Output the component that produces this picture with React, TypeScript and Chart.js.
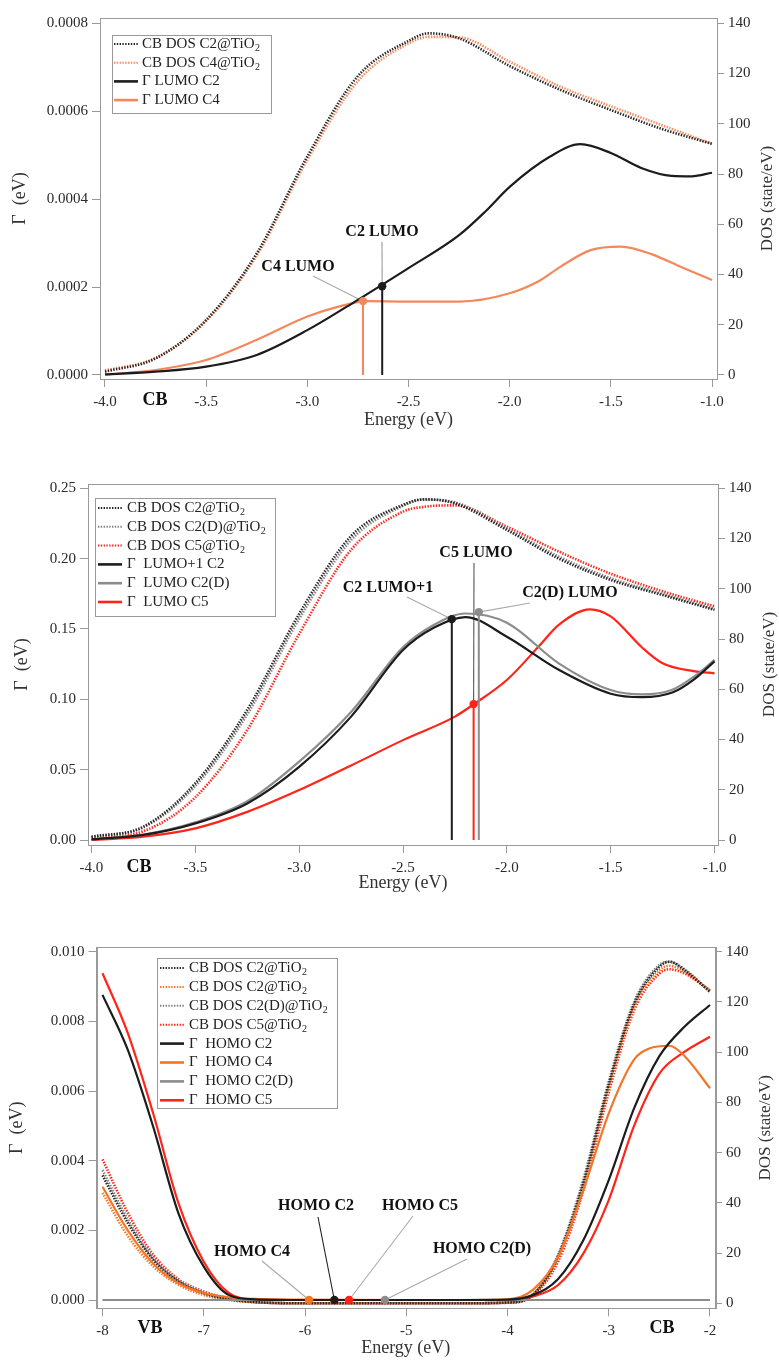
import { useEffect, useRef } from "react";
import { Chart, registerables } from "chart.js";

Chart.register(...registerables);

const SERIF = '"Liberation Serif", "Times New Roman", serif';
const W = 779;

const BLACK = "#1c1c1c";
const GRAY = "#8c8c8c";
const ORANGE1 = "#F5885A";
const ORANGE3 = "#F37526";
const RED = "#FF2318";

// ---------------- Panel 1 data ----------------
const p1DosEnergy = [-4, -3.75, -3.5, -3.25, -3, -2.75, -2.5, -2.4, -2.25, -2, -1.75, -1.5, -1.25, -1];
const p1DosC2 = [1.3, 6.6, 21.9, 48.4, 87, 119, 133, 136, 134, 123, 113.5, 105.5, 98, 92];
const p1DosC4 = [1.8, 6.8, 21.5, 47.5, 85.6, 117, 132, 134.6, 134.4, 124.7, 114.8, 107, 99.5, 92];
const p1GammaC2Energy = [-4, -3.75, -3.5, -3.25, -3, -2.75, -2.5, -2.25, -2.12, -2, -1.8, -1.65, -1.5, -1.35, -1.2, -1.1, -1];
const p1GammaC2 = [0.0000015, 0.0000076, 0.000019, 0.0000455, 0.000102, 0.000171, 0.000243, 0.000318, 0.000372, 0.000428, 0.000497, 0.000525, 0.000505, 0.000471, 0.000453, 0.000452, 0.00046];
const p1GammaC4Energy = [-4, -3.75, -3.5, -3.25, -3, -2.85, -2.7, -2.5, -2.25, -2, -1.85, -1.75, -1.6, -1.45, -1.3, -1.15, -1];
const p1GammaC4 = [0.000001, 0.0000114, 0.000034, 0.00008, 0.000133, 0.000155, 0.000168, 0.000167, 0.000167, 0.000186, 0.000215, 0.000246, 0.000284, 0.000292, 0.000275, 0.000245, 0.000216];
const p1LevelNames = ["C2 LUMO", "C4 LUMO"];
const p1LevelEnergy = [-2.63, -2.725];
const p1LevelGamma = [0.000202, 0.000168];
const p1Legend = ["CB DOS C2@TiO₂", "CB DOS C4@TiO₂", "Γ LUMO C2", "Γ LUMO C4"];
const p1XTicks = [-4, -3.5, -3, -2.5, -2, -1.5, -1];
const p1GammaTicks = [0, 0.0002, 0.0004, 0.0006, 0.0008];

// ---------------- Panel 2 data ----------------
const p2DosEnergy = [-4, -3.75, -3.5, -3.25, -3, -2.75, -2.5, -2.4, -2.25, -2, -1.75, -1.5, -1.25, -1];
const p2DosC2 = [1.3, 5.3, 22.6, 51.8, 90, 121, 133.4, 135.6, 134, 123.4, 112, 103.5, 97.5, 91.6];
const p2DosC2D = [1.2, 5, 21.5, 50, 88, 119.4, 133, 135.5, 134.4, 124, 112.8, 104.2, 98, 92];
const p2DosC5 = [0.8, 3.5, 17, 43.8, 82, 115.5, 130.7, 132.6, 133.2, 124.7, 114.8, 106, 99, 93];
const p2GammaEnergy = [-4, -3.75, -3.5, -3.25, -3, -2.75, -2.5, -2.35, -2.2, -2.0, -1.75, -1.5, -1.35, -1.2, -1.1, -1];
const p2GammaC2 = [0.0005, 0.0036, 0.0118, 0.026, 0.052, 0.0877, 0.135, 0.151, 0.1585, 0.1445, 0.121, 0.104, 0.1015, 0.105, 0.114, 0.127];
const p2GammaC2D = [0.0005, 0.0038, 0.0125, 0.0275, 0.0557, 0.091, 0.137, 0.153, 0.161, 0.1545, 0.1256, 0.1066, 0.1035, 0.107, 0.116, 0.128];
const p2GammaC5Energy = [-4, -3.75, -3.5, -3.25, -3, -2.75, -2.5, -2.25, -2.16, -2.0, -1.85, -1.75, -1.6, -1.5, -1.35, -1.25, -1.1, -1];
const p2GammaC5 = [0, 0.0024, 0.0083, 0.02, 0.0355, 0.053, 0.071, 0.0877, 0.0964, 0.1137, 0.137, 0.153, 0.164, 0.159, 0.137, 0.1256, 0.12, 0.1185];
const p2LevelNames = ["C2 LUMO+1", "C5 LUMO", "C2(D) LUMO"];
const p2LevelEnergy = [-2.265, -2.16, -2.135];
const p2LevelGamma = [0.157, 0.0966, 0.162];
const p2Legend = ["CB DOS C2@TiO₂", "CB DOS C2(D)@TiO₂", "CB DOS C5@TiO₂", "Γ  LUMO+1 C2", "Γ  LUMO C2(D)", "Γ  LUMO C5"];
const p2XTicks = [-4, -3.5, -3, -2.5, -2, -1.5, -1];
const p2GammaTicks = [0, 0.05, 0.1, 0.15, 0.2, 0.25];

// ---------------- Panel 3 data ----------------
const p3DosEnergy = [-8, -7.75, -7.5, -7.25, -7, -6.75, -6.5, -6, -5, -4.5, -4, -3.75, -3.5, -3.25, -3, -2.75, -2.5, -2.4, -2.25, -2];
const p3DosC2 = [50.9, 32, 17.4, 8.7, 4, 1.6, 0.5, 0, 0, 0, 0.3, 3.3, 18.8, 48, 87, 119, 134, 136, 132.6, 124];
const p3DosC4 = [44, 26.8, 14.7, 7.4, 3.3, 1.3, 0.4, 0, 0, 0, 0.3, 3.7, 18, 47, 86, 118, 132.6, 134.4, 132, 124.6];
const p3DosC2D = [53, 33.5, 18, 9, 4.3, 1.7, 0.5, 0, 0, 0, 0.3, 3.5, 19.4, 49.6, 88.4, 120, 134.7, 136, 133, 124];
const p3DosC5 = [57.3, 36, 19.4, 9.6, 4.7, 2, 0.6, 0, 0, 0, 0.2, 3, 16.7, 45, 84, 116.6, 131.3, 133, 131.3, 124.6];
const p3GammaEnergy = [-8, -7.75, -7.5, -7.25, -7, -6.75, -6.5, -6, -5, -4.5, -4, -3.75, -3.5, -3.25, -3, -2.75, -2.5, -2.25, -2];
const p3GammaC2 = [0.00876, 0.00718, 0.00498, 0.00249, 0.00096, 0.00014, 0.00002, 0, 0, 0, 0.00001, 0.00014, 0.0006, 0.00172, 0.00344, 0.0055, 0.007, 0.00785, 0.00847];
const p3GammaC5 = [0.00938, 0.00766, 0.00536, 0.00278, 0.0011, 0.0002, 0.00002, 0, 0, 0, 0, 0.0001, 0.00043, 0.00134, 0.00287, 0.005, 0.0065, 0.00713, 0.00756];
const p3GammaC4Energy = [-8, -7.75, -7.5, -7.25, -7, -6.75, -6.5, -6, -5, -4.5, -4, -3.75, -3.5, -3.25, -3, -2.75, -2.6, -2.4, -2.25, -2];
const p3GammaC4 = [0.00325, 0.002, 0.00105, 0.00048, 0.0002, 0.00008, 0.00003, 0.00001, 0, 0, 0.00002, 0.00029, 0.00124, 0.00316, 0.00536, 0.0069, 0.00722, 0.0073, 0.007, 0.00608];
const p3GammaC2DEnergy = [-8, -5, -2];
const p3GammaC2D = [0, 0, 0];
const p3LevelNames = ["HOMO C4", "HOMO C2", "HOMO C5", "HOMO C2(D)"];
const p3LevelEnergy = [-5.96, -5.71, -5.565, -5.21];
const p3LevelGamma = [0, 0, 0, 0];
const p3Legend = ["CB DOS C2@TiO₂", "CB DOS C2@TiO₂", "CB DOS C2(D)@TiO₂", "CB DOS C5@TiO₂", "Γ  HOMO C2", "Γ  HOMO C4", "Γ  HOMO C2(D)", "Γ  HOMO C5"];
const p3XTicks = [-8, -7, -6, -5, -4, -3, -2];
const p3GammaTicks = [0, 0.002, 0.004, 0.006, 0.008, 0.01];

const dosTicks = [0, 20, 40, 60, 80, 100, 120, 140];

// ---------------- types ----------------
type Series = { label: string; x: number[]; y: number[]; color: string; dos: boolean };
type Marker = { e: number; g: number; color: string; vline: boolean };
type Note = { text: string; cx: number; cy: number; lx: number; ly: number; marker: number; leader: string };
type Panel = {
  top: number; height: number;
  L: number; R: number; T: number; B: number;
  xMin: number; xMax: number; xTicks: number[]; xDec: number;
  gMin: number; gMax: number; gTicks: number[]; gDec: number;
  dMin: number; dMax: number;
  series: Series[]; markers: Marker[]; notes: Note[];
  legend: { x: number; y: number; w: number; h: number; row0: number; rowH: number; lx0: number; lx1: number; tx: number };
  bands: { text: string; cx: number }[]; bandY: number;
  leftTitleX: number; rightTitleX: number; bottomTitleY: number;
};

const panel1: Panel = {
  top: 0, height: 440,
  L: 100, R: 717, T: 18, B: 379,
  xMin: -4.0247, xMax: -0.9753, xTicks: p1XTicks, xDec: 1,
  gMin: -0.0000091, gMax: 0.000812, gTicks: p1GammaTicks, gDec: 4,
  dMin: -1.6, dMax: 142.1,
  series: [
    { label: p1Legend[0], x: p1DosEnergy, y: p1DosC2, color: "#262626", dos: true },
    { label: p1Legend[1], x: p1DosEnergy, y: p1DosC4, color: ORANGE1, dos: true },
    { label: p1Legend[2], x: p1GammaC2Energy, y: p1GammaC2, color: BLACK, dos: false },
    { label: p1Legend[3], x: p1GammaC4Energy, y: p1GammaC4, color: ORANGE1, dos: false },
  ],
  markers: [
    { e: p1LevelEnergy[0], g: p1LevelGamma[0], color: BLACK, vline: true },
    { e: p1LevelEnergy[1], g: p1LevelGamma[1], color: ORANGE1, vline: true },
  ],
  notes: [
    { text: p1LevelNames[0], cx: 382, cy: 232, lx: 382, ly: 242, marker: 0, leader: "#999" },
    { text: p1LevelNames[1], cx: 298, cy: 267, lx: 313, ly: 276, marker: 1, leader: "#aaa" },
  ],
  legend: { x: 112, y: 35, w: 159, h: 78, row0: 44, rowH: 18.7, lx0: 114, lx1: 138, tx: 142 },
  bands: [{ text: "CB", cx: 155 }], bandY: 400,
  leftTitleX: 20, rightTitleX: 768, bottomTitleY: 420,
};

const panel2: Panel = {
  top: 455, height: 445,
  L: 88, R: 718, T: 484, B: 845,
  xMin: -4.0168, xMax: -0.9832, xTicks: p2XTicks, xDec: 1,
  gMin: -0.00355, gMax: 0.25306, gTicks: p2GammaTicks, gDec: 2,
  dMin: -1.99, dMax: 141.7,
  series: [
    { label: p2Legend[0], x: p2DosEnergy, y: p2DosC2, color: "#262626", dos: true },
    { label: p2Legend[1], x: p2DosEnergy, y: p2DosC2D, color: "#808080", dos: true },
    { label: p2Legend[2], x: p2DosEnergy, y: p2DosC5, color: RED, dos: true },
    { label: p2Legend[3], x: p2GammaEnergy, y: p2GammaC2, color: BLACK, dos: false },
    { label: p2Legend[4], x: p2GammaEnergy, y: p2GammaC2D, color: GRAY, dos: false },
    { label: p2Legend[5], x: p2GammaC5Energy, y: p2GammaC5, color: RED, dos: false },
  ],
  markers: [
    { e: p2LevelEnergy[0], g: p2LevelGamma[0], color: BLACK, vline: true },
    { e: p2LevelEnergy[1], g: p2LevelGamma[1], color: RED, vline: true },
    { e: p2LevelEnergy[2], g: p2LevelGamma[2], color: GRAY, vline: true },
  ],
  notes: [
    { text: p2LevelNames[0], cx: 388, cy: 588, lx: 407, ly: 597, marker: 0, leader: "#aaa" },
    { text: p2LevelNames[1], cx: 476, cy: 553, lx: 474, ly: 563, marker: 1, leader: "#555" },
    { text: p2LevelNames[2], cx: 570, cy: 593, lx: 530, ly: 603, marker: 2, leader: "#aaa" },
  ],
  legend: { x: 95, y: 498, w: 180, h: 118, row0: 508, rowH: 18.8, lx0: 98, lx1: 122, tx: 127 },
  bands: [{ text: "CB", cx: 139 }], bandY: 867,
  leftTitleX: 22, rightTitleX: 770, bottomTitleY: 883,
};

const panel3: Panel = {
  top: 920, height: 440,
  L: 96.5, R: 715, T: 947.3, B: 1308.3,
  xMin: -8.0593, xMax: -1.9506, xTicks: p3XTicks, xDec: 0,
  gMin: -0.000238, gMax: 0.010126, gTicks: p3GammaTicks, gDec: 3,
  dMin: -1.99, dMax: 141.75,
  series: [
    { label: p3Legend[0], x: p3DosEnergy, y: p3DosC2, color: "#262626", dos: true },
    { label: p3Legend[1], x: p3DosEnergy, y: p3DosC4, color: ORANGE3, dos: true },
    { label: p3Legend[2], x: p3DosEnergy, y: p3DosC2D, color: "#808080", dos: true },
    { label: p3Legend[3], x: p3DosEnergy, y: p3DosC5, color: RED, dos: true },
    { label: p3Legend[4], x: p3GammaEnergy, y: p3GammaC2, color: BLACK, dos: false },
    { label: p3Legend[5], x: p3GammaC4Energy, y: p3GammaC4, color: ORANGE3, dos: false },
    { label: p3Legend[6], x: p3GammaC2DEnergy, y: p3GammaC2D, color: GRAY, dos: false },
    { label: p3Legend[7], x: p3GammaEnergy, y: p3GammaC5, color: RED, dos: false },
  ],
  markers: [
    { e: p3LevelEnergy[0], g: p3LevelGamma[0], color: ORANGE3, vline: false },
    { e: p3LevelEnergy[1], g: p3LevelGamma[1], color: BLACK, vline: false },
    { e: p3LevelEnergy[2], g: p3LevelGamma[2], color: RED, vline: false },
    { e: p3LevelEnergy[3], g: p3LevelGamma[3], color: GRAY, vline: false },
  ],
  notes: [
    { text: p3LevelNames[0], cx: 252, cy: 1252, lx: 262, ly: 1261, marker: 0, leader: "#aaa" },
    { text: p3LevelNames[1], cx: 316, cy: 1206, lx: 318, ly: 1217, marker: 1, leader: "#222" },
    { text: p3LevelNames[2], cx: 420, cy: 1206, lx: 413, ly: 1216, marker: 2, leader: "#aaa" },
    { text: p3LevelNames[3], cx: 482, cy: 1249, lx: 467, ly: 1259, marker: 3, leader: "#aaa" },
  ],
  legend: { x: 157, y: 958, w: 180, h: 150, row0: 968, rowH: 18.9, lx0: 160, lx1: 184, tx: 189 },
  bands: [{ text: "VB", cx: 150 }, { text: "CB", cx: 662 }], bandY: 1328,
  leftTitleX: 17, rightTitleX: 766, bottomTitleY: 1348,
};

function drawRich(ctx: CanvasRenderingContext2D, text: string, x: number, y: number, size: number) {
  const parts = text.split("₂");
  let cx = x;
  parts.forEach((part, i) => {
    ctx.font = `${size}px ${SERIF}`;
    ctx.fillText(part, cx, y);
    cx += ctx.measureText(part).width;
    if (i < parts.length - 1) {
      ctx.font = `${Math.round(size * 0.68)}px ${SERIF}`;
      ctx.fillText("2", cx + 0.5, y + size * 0.3);
      cx += ctx.measureText("2").width + 0.5;
    }
  });
}

function decorPlugin(p: Panel) {
  const oy = (y: number) => y - p.top;
  const markerPx = (chart: any, i: number) => {
    const m = p.markers[i];
    return [chart.scales.x.getPixelForValue(m.e), chart.scales.yL.getPixelForValue(m.g)];
  };
  return {
    id: "decor",
    beforeDatasetsDraw(chart: any) {
      const ctx: CanvasRenderingContext2D = chart.ctx;
      ctx.save();
      p.notes.forEach((n) => {
        const [mx, my] = markerPx(chart, n.marker);
        ctx.strokeStyle = n.leader;
        ctx.lineWidth = 1.1;
        ctx.beginPath();
        ctx.moveTo(n.lx, oy(n.ly));
        ctx.lineTo(mx, my);
        ctx.stroke();
      });
      ctx.restore();
    },
    afterDatasetsDraw(chart: any) {
      const ctx: CanvasRenderingContext2D = chart.ctx;
      const ca = chart.chartArea;
      ctx.save();
      // frame
      ctx.strokeStyle = "#9a9a9a";
      ctx.lineWidth = 1;
      ctx.strokeRect(Math.round(ca.left) + 0.5, Math.round(ca.top) + 0.5, Math.round(ca.right - ca.left), Math.round(ca.bottom - ca.top));
      // notes
      ctx.fillStyle = "#111";
      ctx.textAlign = "center";
      ctx.textBaseline = "middle";
      ctx.font = `bold 16px ${SERIF}`;
      p.notes.forEach((n) => ctx.fillText(n.text, n.cx, oy(n.cy)));
      // band labels
      ctx.font = `bold 18px ${SERIF}`;
      p.bands.forEach((b) => ctx.fillText(b.text, b.cx, oy(p.bandY)));
      // axis titles
      ctx.fillStyle = "#333";
      ctx.font = `18px ${SERIF}`;
      ctx.fillText("Energy (eV)", (p.L + p.R) / 2, oy(p.bottomTitleY));
      const cy = oy((p.T + p.B) / 2);
      ctx.save();
      ctx.translate(p.leftTitleX, cy);
      ctx.rotate(-Math.PI / 2);
      ctx.fillText("Γ  (eV)", 0, 0);
      ctx.restore();
      ctx.save();
      ctx.translate(p.rightTitleX, cy);
      ctx.rotate(-Math.PI / 2);
      ctx.font = `17px ${SERIF}`;
      ctx.fillText("DOS (state/eV)", 0, 0);
      ctx.restore();
      // legend
      const lg = p.legend;
      ctx.fillStyle = "#fff";
      ctx.fillRect(lg.x, oy(lg.y), lg.w, lg.h);
      ctx.strokeStyle = "#999";
      ctx.lineWidth = 1;
      ctx.strokeRect(lg.x + 0.5, oy(lg.y) + 0.5, lg.w, lg.h);
      ctx.textAlign = "left";
      p.series.forEach((s, i) => {
        const y = oy(lg.row0 + i * lg.rowH);
        ctx.strokeStyle = s.color;
        ctx.lineWidth = s.dos ? 2 : 2.6;
        ctx.setLineDash(s.dos ? [1.4, 1.4] : []);
        ctx.beginPath();
        ctx.moveTo(lg.lx0, y);
        ctx.lineTo(lg.lx1, y);
        ctx.stroke();
        ctx.setLineDash([]);
        ctx.fillStyle = "#222";
        drawRich(ctx, s.label, lg.tx, y, 15);
      });
      ctx.restore();
    },
  };
}

function buildConfig(p: Panel): any {
  const datasets: any[] = [];
  p.series.forEach((s) =>
    datasets.push({
      label: s.label,
      data: s.x.map((x, i) => ({ x, y: s.y[i] })),
      yAxisID: s.dos ? "yR" : "yL",
      borderColor: s.color,
      borderWidth: s.dos ? 2.6 : 2.2,
      borderDash: s.dos ? [1.4, 1.4] : [],
      pointRadius: 0,
      cubicInterpolationMode: "monotone",
      fill: false,
      order: s.dos ? 4 : 3,
    })
  );
  p.markers.forEach((m) => {
    if (m.vline)
      datasets.push({
        data: [{ x: m.e, y: 0 }, { x: m.e, y: m.g }],
        yAxisID: "yL",
        borderColor: m.color,
        borderWidth: 2,
        pointRadius: 0,
        tension: 0,
        order: 2,
      });
    datasets.push({
      data: [{ x: m.e, y: m.g }],
      yAxisID: "yL",
      showLine: false,
      pointRadius: 4.2,
      pointBackgroundColor: m.color,
      pointBorderWidth: 0,
      order: 1,
    });
  });
  const tickFont = { family: SERIF, size: 15 };
  const gridBase = { drawOnChartArea: false, drawTicks: true, tickLength: 8, color: "#999" };
  const canvasBottom = p.top + p.height;
  return {
    type: "line",
    data: { datasets },
    options: {
      animation: false,
      responsive: false,
      maintainAspectRatio: false,
      layout: { padding: { top: p.T - p.top, left: 0, right: 0, bottom: 0 } },
      plugins: { legend: { display: false }, tooltip: { enabled: false } },
      events: [],
      scales: {
        x: {
          type: "linear",
          min: p.xMin,
          max: p.xMax,
          afterBuildTicks: (s: any) => { s.ticks = p.xTicks.map((v) => ({ value: v })); },
          afterFit: (s: any) => { s.height = canvasBottom - p.B; },
          ticks: { callback: (v: any) => Number(v).toFixed(p.xDec), font: tickFont, color: "#2a2a2a", padding: 6, maxRotation: 0, autoSkip: false },
          grid: gridBase,
          border: { display: true, color: "#999" },
        },
        yL: {
          type: "linear",
          position: "left",
          min: p.gMin,
          max: p.gMax,
          afterBuildTicks: (s: any) => { s.ticks = p.gTicks.map((v) => ({ value: v })); },
          afterFit: (s: any) => { s.width = p.L; },
          ticks: { callback: (v: any) => Number(v).toFixed(p.gDec), font: tickFont, color: "#2a2a2a", padding: 4 },
          grid: gridBase,
          border: { display: true, color: "#999" },
        },
        yR: {
          type: "linear",
          position: "right",
          min: p.dMin,
          max: p.dMax,
          afterBuildTicks: (s: any) => { s.ticks = dosTicks.map((v) => ({ value: v })); },
          afterFit: (s: any) => { s.width = W - p.R; },
          ticks: { callback: (v: any) => String(Math.round(Number(v))), font: tickFont, color: "#2a2a2a", padding: 4 },
          grid: { ...gridBase, tickLength: 7 },
          border: { display: true, color: "#999" },
        },
      },
    },
    plugins: [decorPlugin(p)],
  };
}

function PanelChart({ panel }: { panel: Panel }) {
  const ref = useRef<HTMLCanvasElement | null>(null);
  useEffect(() => {
    if (!ref.current) return;
    const chart = new Chart(ref.current, buildConfig(panel));
    return () => chart.destroy();
  }, [panel]);
  return (
    <canvas
      ref={ref}
      width={W}
      height={panel.height}
      style={{ position: "absolute", left: 0, top: panel.top, width: W, height: panel.height, display: "block" }}
    />
  );
}

export default function App() {
  return (
    <div style={{ position: "absolute", left: 0, top: 0, width: W, height: 1360, background: "#fff", overflow: "hidden" }}>
      <PanelChart panel={panel1} />
      <PanelChart panel={panel2} />
      <PanelChart panel={panel3} />
    </div>
  );
}
